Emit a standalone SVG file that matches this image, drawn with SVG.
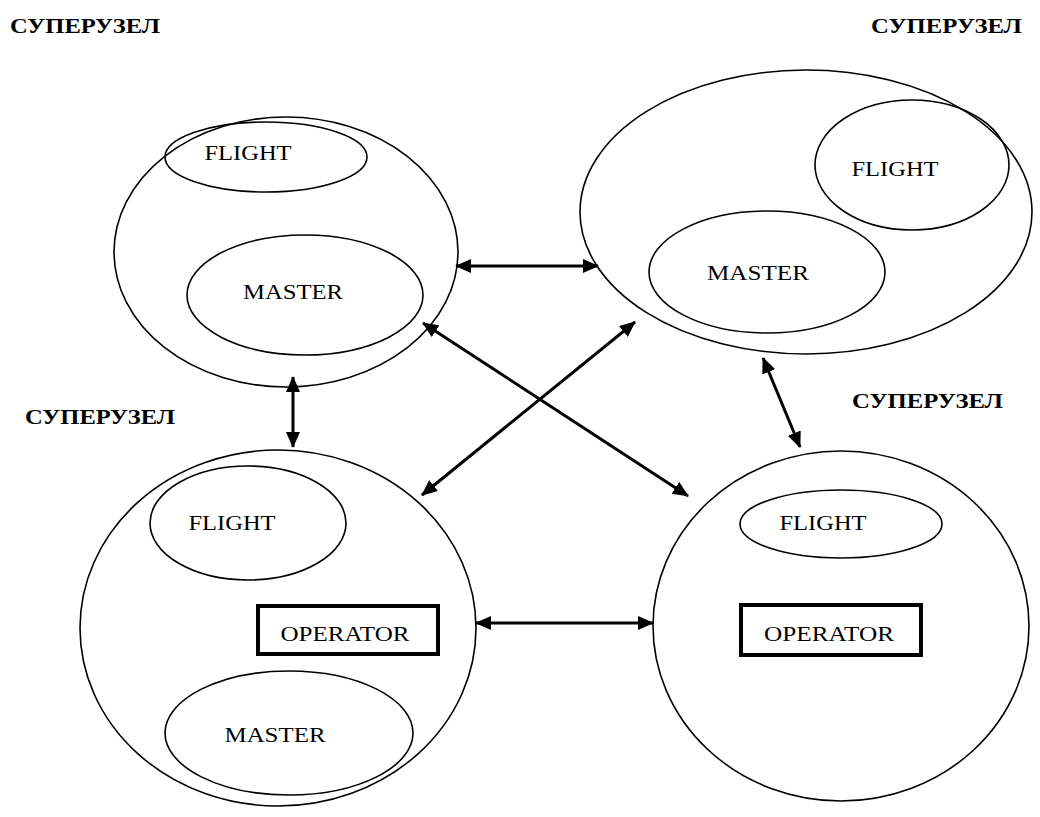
<svg xmlns="http://www.w3.org/2000/svg" width="1040" height="817" viewBox="0 0 1040 817">
<defs>
<marker id="ah" viewBox="0 0 16 14" refX="15" refY="7" markerWidth="16" markerHeight="14" markerUnits="userSpaceOnUse" orient="auto-start-reverse">
<path d="M0,0 L16,7 L0,14 Z" fill="#000"/>
</marker>
</defs>
<style>
.big{fill:none;stroke:#000;stroke-width:1.6}
.sm{fill:none;stroke:#000;stroke-width:1.6}
.box{fill:#fff;stroke:#000;stroke-width:4}
.t{font-family:"Liberation Serif","Times New Roman",serif;font-size:20px;fill:#000;text-anchor:middle}
.lbl{font-family:"Liberation Serif","Times New Roman",serif;font-size:20px;font-weight:bold;fill:#000}
.c{fill:none;stroke:#000;stroke-width:3;marker-start:url(#ah);marker-end:url(#ah)}
</style>
<rect width="1040" height="817" fill="#fff"/>
<g id="label-tl"><text class="lbl" x="10" y="33" textLength="150" lengthAdjust="spacingAndGlyphs">СУПЕРУЗЕЛ</text></g>
<g id="label-tr"><text class="lbl" x="871" y="33" textLength="151" lengthAdjust="spacingAndGlyphs">СУПЕРУЗЕЛ</text></g>
<g id="label-bl"><text class="lbl" x="25" y="424" textLength="150" lengthAdjust="spacingAndGlyphs">СУПЕРУЗЕЛ</text></g>
<g id="label-br"><text class="lbl" x="852" y="408" textLength="151" lengthAdjust="spacingAndGlyphs">СУПЕРУЗЕЛ</text></g>

<g id="node-tl">
<ellipse class="big" cx="286" cy="252" rx="172" ry="135"/>
<g id="tl-flight"><ellipse class="sm" cx="266" cy="157" rx="101" ry="35"/><text class="t" x="248" y="160" textLength="87" lengthAdjust="spacingAndGlyphs">FLIGHT</text></g>
<g id="tl-master"><ellipse class="sm" cx="305" cy="295" rx="118" ry="60"/><text class="t" x="293" y="299" textLength="100" lengthAdjust="spacingAndGlyphs">MASTER</text></g>
</g>

<g id="node-tr">
<ellipse class="big" cx="806" cy="212" rx="226" ry="142"/>
<g id="tr-flight"><ellipse class="sm" cx="912" cy="165" rx="97" ry="65"/><text class="t" x="895" y="176" textLength="87" lengthAdjust="spacingAndGlyphs">FLIGHT</text></g>
<g id="tr-master"><ellipse class="sm" cx="767" cy="272" rx="118" ry="61"/><text class="t" x="758" y="280" textLength="102" lengthAdjust="spacingAndGlyphs">MASTER</text></g>
</g>

<g id="node-bl">
<ellipse class="big" cx="278" cy="628" rx="198" ry="178"/>
<g id="bl-flight"><ellipse class="sm" cx="248" cy="523" rx="98" ry="57"/><text class="t" x="232" y="530" textLength="87" lengthAdjust="spacingAndGlyphs">FLIGHT</text></g>
<g id="bl-operator"><rect class="box" x="258" y="606" width="180" height="48"/><text class="t" x="345" y="641" textLength="129" lengthAdjust="spacingAndGlyphs">OPERATOR</text></g>
<g id="bl-master"><ellipse class="sm" cx="289" cy="733" rx="124" ry="62"/><text class="t" x="275" y="742" textLength="101" lengthAdjust="spacingAndGlyphs">MASTER</text></g>
</g>

<g id="node-br">
<ellipse class="big" cx="841" cy="626" rx="188" ry="175"/>
<g id="br-flight"><ellipse class="sm" cx="841" cy="524" rx="101" ry="34"/><text class="t" x="823" y="530" textLength="87" lengthAdjust="spacingAndGlyphs">FLIGHT</text></g>
<g id="br-operator"><rect class="box" x="741" y="605" width="180" height="50"/><text class="t" x="829" y="641" textLength="130" lengthAdjust="spacingAndGlyphs">OPERATOR</text></g>
</g>

<g id="connectors">
<line class="c" x1="456" y1="266" x2="598" y2="266"/>
<line class="c" x1="293" y1="377" x2="293" y2="447"/>
<line class="c" x1="423" y1="323" x2="688" y2="496"/>
<line class="c" x1="422" y1="495" x2="635" y2="322"/>
<line class="c" x1="763" y1="358" x2="800" y2="447"/>
<line class="c" x1="476" y1="623" x2="653" y2="623"/>
</g>
</svg>
